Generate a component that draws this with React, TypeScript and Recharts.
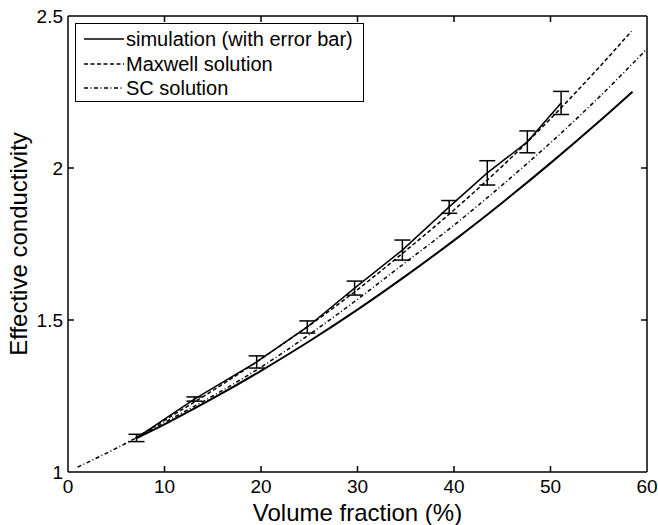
import React from 'react';
import { LineChart, Line, XAxis, YAxis, ErrorBar, Legend, ReferenceLine } from 'recharts';

// simulation points (with error bars)
const simX = [7.1, 13.1, 19.55, 24.8, 29.7, 34.65, 39.5, 43.45, 47.6, 51.1];
const simY = [1.112, 1.24, 1.362, 1.477, 1.605, 1.73, 1.872, 1.984, 2.086, 2.214];
const simErr = [0.012, 0.007, 0.02, 0.02, 0.023, 0.033, 0.021, 0.04, 0.036, 0.038];

// Maxwell solution
const maxwellX = [7, 10, 15, 20, 25, 30, 35, 40, 45, 50, 55, 58.4];
const maxwellY = [1.112, 1.17, 1.268, 1.372, 1.482, 1.6, 1.728, 1.862, 2.006, 2.162, 2.33, 2.45];

// SC solution
const scX = [1, 5, 10, 15, 20, 25, 30, 35, 40, 45, 50, 55, 60];
const scY = [1.016, 1.078, 1.163, 1.25, 1.345, 1.452, 1.568, 1.69, 1.812, 1.944, 2.083, 2.232, 2.392];

// lower solid curve (not in legend)
const lowerX = [7, 10, 15, 20, 25, 30, 35, 40, 45, 50, 55, 58.5];
const lowerY = [1.11, 1.157, 1.242, 1.333, 1.43, 1.534, 1.645, 1.762, 1.886, 2.016, 2.152, 2.251];

const xTicks = [0, 10, 20, 30, 40, 50, 60];
const yTicks = [1, 1.5, 2, 2.5];
const X_MIN = 0, X_MAX = 60, Y_MIN = 1, Y_MAX = 2.5;
// inward tick length, in data units (about 6px)
const X_TICK_LEN = 0.62;
const Y_TICK_LEN = 0.02;

const legendItems = [
  { label: 'simulation (with error bar)', dash: undefined },
  { label: 'Maxwell solution', dash: '4 2.5' },
  { label: 'SC solution', dash: '4 2.5 1 2.5' },
];

const simData = simX.map((x, i) => ({ x, y: simY[i], err: simErr[i] }));
const maxwellData = maxwellX.map((x, i) => ({ x, y: maxwellY[i] }));
const scData = scX.map((x, i) => ({ x, y: scY[i] }));
const lowerData = lowerX.map((x, i) => ({ x, y: lowerY[i] }));

const innerX = xTicks.filter((t) => t > X_MIN && t < X_MAX);
const innerY = yTicks.filter((t) => t > Y_MIN && t < Y_MAX);

const tickStyle = { fill: '#000', fontSize: 19 };
const axisLine = { stroke: '#000', strokeWidth: 1.5 };

const LegendBox = () => (
  <div
    style={{
      width: 287,
      height: 74,
      border: '1.5px solid #000',
      background: '#fff',
      boxSizing: 'content-box',
      paddingTop: 3,
    }}
  >
    {legendItems.map((it) => (
      <div key={it.label} style={{ display: 'flex', alignItems: 'center', height: 24.5 }}>
        <svg width={50} height={10} style={{ marginLeft: 6 }}>
          <line x1={2} x2={42} y1={5} y2={5} stroke="#000" strokeWidth={1.5} strokeDasharray={it.dash} />
        </svg>
        <span style={{ fontSize: 20, color: '#000', marginLeft: -6, lineHeight: '24px' }}>{it.label}</span>
      </div>
    ))}
  </div>
);

export default function App() {
  return (
    <div style={{ position: 'absolute', left: 0, top: 0, fontFamily: '"Liberation Sans", Arial, sans-serif', background: '#fff' }}>
      <LineChart width={658} height={525} margin={{ top: 15, right: 10, bottom: 0, left: 0 }}>
        <XAxis
          type="number"
          dataKey="x"
          domain={[X_MIN, X_MAX]}
          ticks={xTicks}
          height={53}
          axisLine={axisLine}
          tickLine={false}
          tickSize={0}
          tickMargin={8}
          tick={tickStyle}
          label={{ value: 'Volume fraction (%)', position: 'insideBottom', offset: 4, fill: '#000', fontSize: 24 }}
        />
        <XAxis
          xAxisId="top"
          orientation="top"
          type="number"
          dataKey="x"
          domain={[X_MIN, X_MAX]}
          ticks={xTicks}
          height={1}
          axisLine={axisLine}
          tickLine={false}
          tick={false}
        />
        <YAxis
          type="number"
          domain={[Y_MIN, Y_MAX]}
          ticks={yTicks}
          width={68}
          axisLine={axisLine}
          tickLine={false}
          tickSize={0}
          tickMargin={5}
          tick={tickStyle}
          label={{
            value: 'Effective conductivity',
            angle: -90,
            position: 'insideLeft',
            offset: 18,
            fill: '#000',
            fontSize: 24,
            style: { textAnchor: 'middle' },
          }}
        />
        <YAxis
          yAxisId="right"
          orientation="right"
          type="number"
          domain={[Y_MIN, Y_MAX]}
          ticks={yTicks}
          width={1}
          axisLine={axisLine}
          tickLine={false}
          tick={false}
        />

        {/* inward tick marks on all four sides */}
        {innerX.map((t) => (
          <ReferenceLine key={`xb${t}`} segment={[{ x: t, y: Y_MIN }, { x: t, y: Y_MIN + Y_TICK_LEN }]} stroke="#000" strokeWidth={1.5} />
        ))}
        {innerX.map((t) => (
          <ReferenceLine key={`xt${t}`} segment={[{ x: t, y: Y_MAX }, { x: t, y: Y_MAX - Y_TICK_LEN }]} stroke="#000" strokeWidth={1.5} />
        ))}
        {innerY.map((t) => (
          <ReferenceLine key={`yl${t}`} segment={[{ x: X_MIN, y: t }, { x: X_MIN + X_TICK_LEN, y: t }]} stroke="#000" strokeWidth={1.5} />
        ))}
        {innerY.map((t) => (
          <ReferenceLine key={`yr${t}`} segment={[{ x: X_MAX, y: t }, { x: X_MAX - X_TICK_LEN, y: t }]} stroke="#000" strokeWidth={1.5} />
        ))}

        <Line
          data={lowerData}
          dataKey="y"
          type="monotone"
          stroke="#000"
          strokeWidth={2}
          dot={false}
          legendType="none"
          isAnimationActive={false}
        />
        <Line
          data={scData}
          dataKey="y"
          type="monotone"
          stroke="#000"
          strokeWidth={1.5}
          strokeDasharray="4 2.5 1 2.5"
          dot={false}
          isAnimationActive={false}
        />
        <Line
          data={maxwellData}
          dataKey="y"
          type="monotone"
          stroke="#000"
          strokeWidth={1.5}
          strokeDasharray="4 2.5"
          dot={false}
          isAnimationActive={false}
        />
        <Line
          data={simData}
          dataKey="y"
          type="linear"
          stroke="#000"
          strokeWidth={1.5}
          dot={false}
          isAnimationActive={false}
        >
          <ErrorBar dataKey="err" width={8} stroke="#000" strokeWidth={1.5} direction="y" />
        </Line>
        <Legend
          layout="vertical"
          align="center"
          verticalAlign="middle"
          content={() => <LegendBox />}
          wrapperStyle={{ left: 75, top: 23, width: 'auto', height: 'auto' }}
        />
      </LineChart>
    </div>
  );
}
